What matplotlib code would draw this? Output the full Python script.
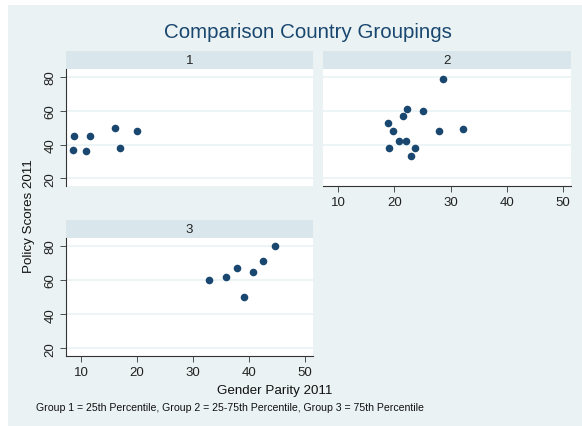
import matplotlib
matplotlib.use("Agg")
import matplotlib.pyplot as plt
from matplotlib.patches import Rectangle

plt.rcParams['font.family'] = ['Liberation Sans', 'DejaVu Sans']

# Datos (Gender Parity 2011, Policy Scores 2011)
g1_x = [8.7, 8.6, 10.9, 11.5, 16.0, 17.0, 20.0]
g1_y = [45, 37, 36, 45, 50, 38, 48]

g2_x = [28.7, 22.3, 25.0, 21.6, 18.9, 19.8, 27.9, 32.2, 20.8, 22.0, 19.1, 23.7, 23.0]
g2_y = [79, 61, 60, 57, 53, 48, 48, 49, 42, 42, 38, 38, 33]

g3_x = [32.9, 35.9, 37.9, 40.6, 39.0, 42.4, 44.6]
g3_y = [60, 62, 67, 65, 50, 71, 80]

grupos = ["1", "2", "3"]
xticks = [10, 20, 30, 40, 50]
yticks = [20, 40, 60, 80]

W, H = 582, 427
BG = "#EAF2F3"
STRIP = "#D9E6EB"
NAVY = "#1A476F"
AXC = "#333333"

def rect(l, t, r, b):
    return [l / W, 1 - b / H, (r - l) / W, (b - t) / H]

fig = plt.figure(figsize=(W / 100, H / 100), dpi=100)
fig.patch.set_facecolor("white")
fig.add_artist(Rectangle((8 / W, 0), 1 - 8 / W, 1 - 6 / H, transform=fig.transFigure,
                         facecolor=BG, edgecolor="none", zorder=-10))

# --- paneles: (x, y, etiqueta, caja, eje x visible, eje y visible) ---
paneles = [
    (g1_x, g1_y, grupos[0], (66, 70, 313, 187), False, True),
    (g2_x, g2_y, grupos[1], (323, 70, 571, 187), True, False),
    (g3_x, g3_y, grupos[2], (66, 239, 313, 357), True, True),
]

for xs, ys, lab, (l, t, r, b), show_x, show_y in paneles:
    # franja con el titulo del grupo
    sax = fig.add_axes(rect(l, t - 18, r, t))
    sax.set_facecolor(STRIP)
    sax.set_xticks([])
    sax.set_yticks([])
    for s in sax.spines.values():
        s.set_visible(False)
    sax.text(0.5, 0.5, lab, ha="center", va="center", fontsize=9.5, color="#222222",
             transform=sax.transAxes)

    ax = fig.add_axes(rect(l, t, r, b))
    ax.set_facecolor("white")
    ax.set_xlim(7.3, 51.4)
    ax.set_ylim(15.5, 84.7)
    for yv in yticks:
        ax.axhline(yv, color=BG, linewidth=1.2, zorder=0)
    ax.scatter(xs, ys, s=30, color=NAVY, zorder=3, linewidths=0)
    ax.spines["top"].set_visible(False)
    ax.spines["right"].set_visible(False)
    ax.spines["bottom"].set_visible(show_x)
    ax.spines["left"].set_visible(show_y)
    for s in ["bottom", "left"]:
        ax.spines[s].set_color(AXC)
        ax.spines[s].set_linewidth(0.8)
    if show_x:
        ax.set_xticks(xticks)
        ax.tick_params(axis="x", length=4, width=0.6, color=AXC, labelsize=9.5,
                       labelcolor="#222222", pad=3)
    else:
        ax.set_xticks([])
    if show_y:
        ax.set_yticks(yticks)
        ax.set_yticklabels([str(v) for v in yticks], rotation=90, va="center")
        ax.tick_params(axis="y", length=4, width=0.6, color=AXC, labelsize=9.5,
                       labelcolor="#222222", pad=3)
    else:
        ax.set_yticks([])

fig.text(308 / W, 1 - 33 / H, "Comparison Country Groupings", ha="center", va="center",
         fontsize=14.8, color=NAVY)
fig.text(275 / W, 1 - 391 / H, "Gender Parity 2011", ha="center", va="center",
         fontsize=9.6, color="#111111")
fig.text(29 / W, 1 - 216 / H, "Policy Scores 2011", ha="center", va="center",
         rotation=90, fontsize=9.6, color="#111111")
fig.text(36 / W, 1 - 408 / H,
         "Group 1 = 25th Percentile, Group 2 = 25-75th Percentile, Group 3 = 75th Percentile",
         ha="left", va="center", fontsize=7.6, color="#111111")

fig.savefig("out.png", dpi=100, facecolor=fig.get_facecolor())
